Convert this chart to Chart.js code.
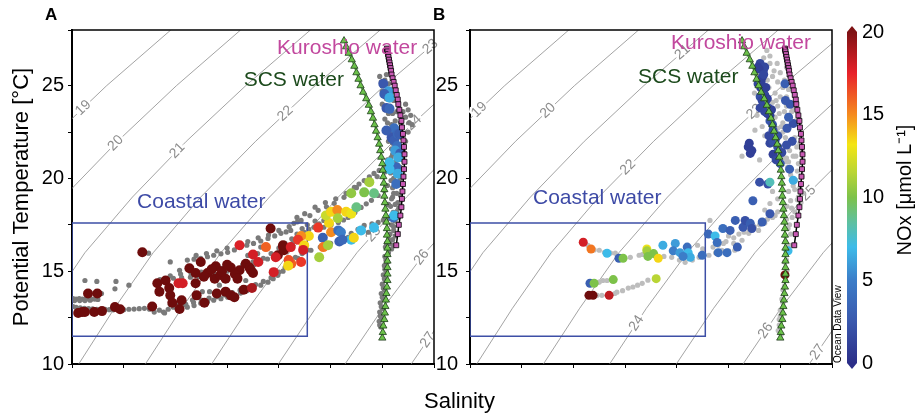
<!DOCTYPE html>
<html>
<head>
<meta charset="utf-8">
<title>T-S diagram</title>
<script src="https://cdn.jsdelivr.net/npm/chart.js@4.4.1/dist/chart.umd.min.js"></script>
<style>
  body { margin: 0; background: #fff; }
  #wrap { position: relative; width: 916px; height: 419px; overflow: hidden; font-family: 'Liberation Sans', Arial, sans-serif; }
  canvas { position: absolute; top: 0; }
  #cA { left: 0; }
  #cB { left: 436px; }
  #cBar { left: 846px; }
  .tag { position: absolute; top: 5px; font-weight: bold; font-size: 17px; }
  #sal { position: absolute; left: 424px; top: 388px; font-size: 22px; }
</style>
</head>
<body>
<div id="wrap">
  <canvas id="cA" width="440" height="419"></canvas>
  <canvas id="cB" width="410" height="419"></canvas>
  <canvas id="cBar" width="70" height="419"></canvas>
  <div class="tag" style="left:45px">A</div>
  <div class="tag" style="left:433px">B</div>
  <div id="sal">Salinity</div>
</div>
<script>
// isopycnals (sigma-theta), salinity where each level crosses the temperatures in isoT
const isoLevels = [19, 20, 21, 22, 23, 24, 25, 26, 27];
const isoT = [10, 13, 16, 19, 22, 25, 28];
const isoS = [
  [24.77, 25.43, 26.12, 27.02, 28.04, 29.17, 30.41],
  [26.06, 26.73, 27.43, 28.34, 29.38, 30.52, 31.76],
  [27.34, 28.02, 28.75, 29.67, 30.71, 31.86, 33.11],
  [28.63, 29.32, 30.07, 30.99, 32.05, 33.20, 34.46],
  [29.92, 30.62, 31.38, 32.32, 33.38, 34.54, 35.81],
  [31.20, 31.91, 32.70, 33.65, 34.72, 35.89],
  [32.49, 33.21, 34.01, 34.97, 36.05],
  [33.78, 34.51, 35.33, 36.30],
  [35.06, 35.80]
];
// temperature where each isopycnal carries its label
const isoLabelTA = [23.8, 21.9, 21.5, 23.5, 27.1, 23.0, 17.0, 15.75, 11.3];
const isoLabelTB = [23.7, 23.65, 26.8, 20.6, 23.6, 12.2, 19.2, 11.8, 10.65];

// end-member profiles [S, T]
const scsProfile = [[33.76,27.42],[33.80,27.1],[33.85,26.75],[33.91,26.4],[33.96,26.05],[34.00,25.7],[34.04,25.35],[34.08,25.0],[34.13,24.65],[34.19,24.3],[34.24,23.95],[34.28,23.6],[34.32,23.25],[34.35,22.9],[34.38,22.55],[34.41,22.2],[34.44,21.85],[34.46,21.5],[34.48,21.15],[34.50,20.8],[34.51,20.45],[34.52,20.1],[34.53,19.75],[34.54,19.4],[34.54,19.05],[34.55,18.7],[34.56,18.35],[34.57,18.0],[34.58,17.65],[34.59,17.3],[34.59,16.95],[34.60,16.6],[34.60,16.25],[34.60,15.9],[34.60,15.55],[34.60,15.2],[34.60,14.85],[34.60,14.5],[34.59,14.15],[34.58,13.8],[34.57,13.45],[34.56,13.1],[34.55,12.75],[34.54,12.4],[34.52,12.05],[34.51,11.7],[34.50,11.4]];
const kuroshioProfile = [[34.59,27.0],[34.595,26.93],[34.60,26.85],[34.61,26.7],[34.62,26.55],[34.63,26.4],[34.64,26.25],[34.65,26.1],[34.66,25.95],[34.67,25.8],[34.68,25.6],[34.70,25.4],[34.72,25.2],[34.74,25.0],[34.76,24.75],[34.78,24.5],[34.80,24.25],[34.81,24.0],[34.83,23.7],[34.85,23.4],[34.87,23.1],[34.88,22.75],[34.90,22.4],[34.91,22.05],[34.92,21.7],[34.93,21.3],[34.93,20.9],[34.92,20.5],[34.91,20.1],[34.90,19.7],[34.89,19.3],[34.88,18.9],[34.87,18.45],[34.85,18.0],[34.82,17.5],[34.80,17.0],[34.77,16.4]];

// coastal water box
const boxS = [28.5, 33.05, 33.05, 28.5, 28.5];
const boxT = [11.5, 11.5, 17.6, 17.6, 11.5];

// panel A: all CTD samples [S, T]
const grayA = [
  [28.52,13.52],[28.58,13.5],[28.64,13.52],[28.7,13.5],[28.76,13.5],[28.82,13.52],[28.88,13.5],[28.94,13.5],[29.0,13.48],[28.55,13.42],[28.65,13.42],[28.75,13.42],[28.85,13.44],
  [28.52,13.1],[28.58,13.05],[28.66,13.02],[28.74,13.0],[28.82,12.98],[28.9,12.97],[28.98,12.95],[29.06,12.95],[29.14,12.95],[29.22,12.93],[29.3,12.92],[29.4,12.92],[29.5,12.93],[29.6,12.95],[29.7,12.96],[29.8,12.98],[29.9,13.0],[30.0,12.95],[30.09,12.8],[30.19,12.9],[30.29,12.75],
  [28.75,14.5],[28.98,14.45],[29.35,14.45],[29.6,14.25],[29.33,14.05],[29.07,13.8],[29.98,15.97],
  [30.27,12.8],[30.36,12.95],[30.46,13.06],[30.6,13.05],[30.73,13.06],[30.86,13.15],[30.99,13.28],[31.12,13.35],[31.24,13.44],[31.38,13.52],[31.51,13.6],[31.64,13.7],[31.76,13.82],[31.88,13.95],[32.01,14.09],[32.15,14.25],[32.29,14.41],[32.39,14.6],[32.48,14.78],[32.58,15.0],[32.67,15.22],[32.77,15.45],[32.87,15.7],[32.95,15.95],[33.05,16.15],
  [30.4,13.2],[30.55,13.25],[30.7,13.22],[30.85,13.32],[31.0,13.45],[31.15,13.55],[31.3,13.62],[31.45,13.72],[31.6,13.85],[31.75,13.98],[31.9,14.12],[32.05,14.28],[32.2,14.45],[32.35,14.65],[32.5,14.95],[32.62,15.2],[32.72,15.45],[32.82,15.75],
  [30.15,14.35],[30.3,14.5],[30.46,14.62],[30.62,14.65],[30.79,14.68],[30.95,14.72],[31.12,14.78],[31.25,14.88],[31.37,14.95],[31.5,15.0],[31.63,15.05],[31.76,15.13],[31.9,15.22],[32.02,15.35],[32.15,15.48],[32.28,15.66],[32.4,15.86],[32.54,16.08],[32.67,16.29],[32.77,16.52],[32.87,16.77],[32.99,17.1],[33.08,17.25],[33.18,17.37],[33.28,17.55],[33.37,17.74],
  [30.2,14.55],[30.4,14.75],[30.6,14.85],[30.8,14.9],[31.0,14.95],[31.2,15.05],[31.4,15.15],[31.6,15.25],[31.8,15.35],[32.0,15.5],[32.2,15.7],[32.35,15.95],[32.5,16.25],[32.62,16.5],[32.75,16.75],[32.85,17.0],[32.95,17.3],[33.05,17.5],[33.2,17.7],
  [30.73,15.6],[30.86,15.65],[30.99,15.7],[31.12,15.78],[31.24,15.86],[31.38,15.94],[31.51,16.02],[31.64,16.15],[31.76,16.29],[31.88,16.4],[32.01,16.5],[32.15,16.63],[32.29,16.77],[32.42,16.9],[32.54,17.04],[32.64,17.12],[32.73,17.2],[32.79,17.58],[32.86,17.66],[32.93,17.74],[33.1,18.0],
  [30.9,15.85],[31.1,15.95],[31.3,16.1],[31.5,16.25],[31.7,16.45],[31.9,16.6],[32.1,16.8],[32.3,16.95],[32.5,17.2],[32.7,17.4],[32.85,17.9],[33.0,18.1],[33.2,18.45],[33.4,18.7],[33.6,18.9],[33.8,19.2],[34.0,19.5],[34.2,19.8],[34.4,20.1],[34.55,20.35],
  [30.58,15.05],[31.02,13.9],[31.16,13.9],[31.35,14.25],[30.83,13.45],[30.69,13.2],[31.28,13.7],[31.86,14.5],[31.9,15.85],[32.09,15.95],[32.15,16.3],[31.37,15.15],[30.4,15.5],
  [33.26,18.28],[33.42,18.47],[33.57,18.66],[33.76,18.98],[33.86,19.25],[33.96,19.52],[34.05,19.7],[34.15,19.89],[34.25,20.08],[34.34,20.27],[34.44,20.43],[34.54,20.59],[34.6,20.86],[34.67,21.13],
  [33.37,17.37],[33.51,17.5],[33.65,17.63],[33.75,17.76],[33.84,17.9],[33.97,18.17],[34.09,18.44],[34.19,18.63],[34.29,18.82],[34.42,19.08],[34.54,19.35],[34.6,19.62],[34.67,19.89],
  [33.12,16.13],[33.3,16.3],[33.5,16.5],[33.7,16.7],[33.84,16.83],[33.9,17.04],[34.03,17.25],[34.15,17.47],[34.23,17.1],[34.3,17.55],[34.42,17.63],[34.52,17.75],[34.62,17.85],[34.71,18.17],
  [34.55,25.3],[34.6,24.8],[34.58,24.3],[34.65,23.9],[34.7,23.5],[34.75,23.1],[34.78,22.6],[34.8,22.2],[34.85,21.7],[34.82,21.2],[34.8,20.7],[34.78,20.2],[34.75,19.7],[34.78,19.2],[34.8,18.7],[34.78,18.2],[34.75,17.7],[34.72,17.2],[34.7,16.7],[34.68,16.2],
  [34.95,23.3],[35.02,23.0],[35.0,22.5],[34.95,22.0],[34.5,24.0],[34.55,23.2],[34.62,22.0],[34.6,21.0],[34.66,20.3],[34.7,19.0],[34.66,18.5],[34.62,18.6],[34.5,25.0],[34.58,25.6],[34.52,24.6],[34.9,23.6],[34.88,22.8],[34.72,22.4],[34.68,21.6],[34.72,20.8],[34.9,21.0],[34.85,20.0],
  [34.45,25.5],[34.48,25.2],[34.62,25.1],[34.5,24.7],[34.68,24.6],[34.55,24.4],[34.72,24.2],[34.55,23.7],[34.62,23.5],[34.78,23.6],[34.6,23.0],[34.68,22.9],[34.85,23.0],[34.65,22.4],[34.72,22.2],[34.88,22.2],[34.7,21.9],[34.78,21.5],[34.92,21.4],[34.7,21.3],[34.75,20.9],[34.85,20.6],[34.7,20.4],[34.72,20.0],[34.82,19.8],[34.7,19.5],[34.72,19.2],[34.85,19.1],[34.68,18.9],[34.75,18.6],[34.82,18.4],[34.7,18.0],[34.8,17.9],[34.68,17.5],[34.72,17.4],[34.65,17.0],[34.75,16.9],[34.65,16.5],[34.72,16.4],[34.62,16.7],
  [35.05,23.4],[35.08,22.9],[35.0,23.7],[34.95,24.0],
  [34.56,16.3],[34.55,15.8],[34.54,15.3],[34.52,14.8],[34.5,14.3],[34.48,13.8],[34.46,13.3],[34.45,12.8],[34.44,12.3],[34.62,16.0],[34.6,15.5],[34.58,15.0],[34.56,14.5],[34.54,14.0],[34.52,13.5],[34.5,13.0],[34.48,12.5],
  [34.58,16.5],[34.57,15.6],[34.55,15.1],[34.54,14.6],[34.52,14.1],[34.5,13.6],[34.48,13.1],[34.46,12.6],[34.45,12.1],[34.47,12.0]
];
// panel A: samples with NOx [S, T, NOx]
const noxA = [
  [29.86,16.02,22],[28.81,13.8,22],[28.99,13.8,22],[28.62,12.75,22],[28.7,12.8,22],[28.75,12.8,22],[28.93,12.8,22],[29.08,12.85,22],[29.33,13.07,22],[29.43,12.95,22],[30.05,13.1,22],
  [30.15,14.35,22],[30.31,14.5,22],[30.19,13.9,22],[30.38,14.1,22],[30.40,13.7,22],[30.44,13.3,22],[30.58,12.96,22],[30.62,13.44,22],
  [30.77,15.16,22],[30.89,14.9,22],[30.89,14.35,22],[30.91,13.7,22],[30.99,15.5,22],[31.06,13.3,22],[31.12,14.9,22],[31.28,15.27,22],[31.26,14.6,22],[31.37,14.8,22],[31.47,14.6,22],[31.47,13.9,22],[31.57,13.7,22],[31.64,13.6,22],[31.57,15.2,22],[31.74,15.05,22],[31.82,14.0,22],[31.86,15.4,22],[31.93,15.2,22],[31.96,15.05,22],[32.0,14.9,22],
  [31.2,15.1,22],[31.4,15.0,22],[31.65,14.85,22],[31.7,14.6,22],[31.05,14.7,22],[31.5,15.35,22],[31.3,13.8,22],
  [31.74,16.4,17.8],[30.56,14.35,18],[30.64,14.35,18],[32.1,15.5,18],[31.98,14.1,19],
  [32.34,17.3,22],[32.25,16.3,16],[32.0,15.9,18],[32.48,15.86,22],[32.58,16.3,19],[32.93,15.5,17],[32.74,15.4,16],[32.4,14.95,18],[32.6,16.13,22],[32.44,15.75,18],[32.58,16.4,22],
  [33.08,16.9,13.5],[33.26,17.35,17],[33.35,16.8,3],[33.47,17.6,13.5],[33.51,17.1,15],[33.41,18.0,12],[33.51,18.2,13.5],[33.63,18.3,15],[33.64,17.85,11],[33.65,17.2,4],[33.70,17.1,5],[33.67,16.6,3],[33.80,18.2,13.5],[33.90,18.1,13],[33.90,19.2,10.5],[33.90,16.7,7],[33.73,16.7,3.5],[33.95,16.8,13.5],[34.0,18.45,9],[34.09,17.2,7],[34.15,19.25,10],[34.25,19.8,11],[34.34,19.2,9],[34.34,17.35,7],[33.28,15.75,11],[33.36,16.3,15.5],[33.45,16.4,11],[32.93,16.9,15],[32.87,16.7,17],[32.99,16.4,13.5],[32.97,16.15,18],[32.73,16.3,18],[32.69,15.6,16.5],[32.68,15.3,13.5],
  [34.52,25.1,2.5],[34.62,24.7,6],[34.54,24.55,3],[34.64,24.35,6.5],[34.58,23.8,2.5],[34.64,23.75,3.5],[34.73,22.7,4],[34.68,22.2,2.5],[34.73,22.05,3],[34.8,22.4,3.5],[34.79,21.75,4],[34.75,21.5,6],[34.85,21.35,3],[34.77,20.6,3.5],[34.8,20.25,6.5],[34.64,20.5,7],[34.77,19.7,4],[34.81,21.13,6.5],[34.64,20.86,7],[34.71,17.9,4],[34.73,18.0,7],[34.58,22.58,3],[34.83,22.4,3]
];

// panel B: all CTD samples [S, T]
const grayB = [
  [34.24,26.9],[34.3,26.6],[34.44,26.2],[34.5,25.7],[34.55,24.9],[34.62,24.4],[34.62,23.9],[34.69,23.3],[34.55,23.0],[34.65,22.6],[34.5,22.3],[34.69,22.0],[34.82,21.7],[34.55,21.5],[34.62,21.1],[34.18,26.5],[34.25,25.3],[34.4,24.6],[34.38,25.8],[34.48,23.5],[34.42,24.2],[34.88,22.6],[34.92,21.5],[34.94,21.0],[34.92,20.5],[34.64,20.6],[34.55,22.5],[34.75,23.8],[34.78,22.2],[34.75,21.2],
  [34.3,26.2],[34.35,25.5],[34.45,25.2],[34.5,24.4],[34.45,23.9],[34.58,23.6],[34.52,22.8],[34.6,22.2],[34.72,21.9],[34.68,21.5],[34.6,21.8],[34.8,21.2],[34.85,20.8],[34.7,20.2],[34.78,19.4],[34.88,19.5],[34.85,19.0],[34.9,18.7],[34.78,18.2],[34.7,18.8],[34.62,17.8],[34.65,17.3],[34.6,16.9],[34.68,16.4],[34.6,16.2],[34.58,15.5],[34.56,14.8],[34.58,14.2],[34.55,13.3],[34.5,12.6],[34.48,12.1],[34.52,11.6],[34.8,23.1],[34.72,23.6],[34.66,24.8],[34.58,25.3],[34.62,26.0],[34.28,24.9],[34.35,24.1],[34.4,23.3],[34.45,22.7],[34.5,21.7],[34.58,21.1],[34.66,20.9],[34.92,20.1],[34.88,21.9],
  [34.05,25.6],[34.0,24.6],[34.05,23.4],[34.15,22.8],[34.2,22.3],[34.01,22.6],[33.76,21.2],[34.1,21.0],
  [34.62,20.9],[34.83,20.4],[34.8,19.9],[34.94,19.2],[34.83,18.85],[34.73,17.9],[34.7,17.0],[34.65,16.1],[34.63,15.05],[34.55,14.0],[34.5,12.9],[34.46,11.8],[34.6,16.6],[34.62,15.6],[34.6,14.5],[34.53,13.5],[34.48,12.4],[34.68,17.5],[34.72,18.4],[34.66,19.3],[34.75,19.6],
  [34.3,18.65],[34.63,18.5],[34.2,18.3],[34.35,19.3],[34.45,18.9],
  [30.78,16.4],[30.9,16.15],[31.0,16.13],[31.1,16.02],[31.22,15.98],[31.31,15.97],[31.6,15.75],[31.77,15.86],[31.83,15.9],[32.08,15.85],[32.25,15.8],[32.4,15.75],[32.55,15.6],[32.66,15.48],[32.8,15.6],[32.93,15.75],[33.12,15.86],[33.25,16.0],[33.37,16.13],[33.5,16.1],[33.62,16.13],[33.76,16.67],[33.89,17.04],[34.08,17.2],[33.14,17.74],[33.2,16.3],[33.4,16.5],[33.6,16.8],[33.8,17.1],[34.0,17.4],[34.2,17.6],[34.35,17.9],[34.45,18.2],[33.0,16.2],[32.9,16.4],[33.5,16.9],
  [33.3,16.4],[33.45,16.6],[33.6,16.5],[33.7,17.0],[33.9,17.2],[34.1,17.5],[34.25,17.8],[34.4,18.0],[34.55,18.3],
  [30.98,14.4],[31.07,14.5],[31.15,14.5],[31.34,13.87],[31.45,13.95],[31.56,14.09],[31.65,14.15],[31.74,14.25],[31.83,14.35],[31.94,14.52],[30.96,13.7],[31.05,13.7],[31.3,13.8],[31.0,14.42]
];
// panel B: samples with NOx [S, T, NOx]
const noxB = [
  [30.69,16.56,18],[30.84,16.2,15.5],[31.15,15.97,7],[31.38,15.7,3],[31.46,15.7,10],[31.92,16.2,13],[31.92,16.1,11],[31.94,15.8,10],[32.05,15.95,10],[32.14,15.7,13.5],[32.23,16.4,6.5],[32.47,16.5,6],[32.43,16.1,5],[32.56,16.0,6],[32.7,16.3,4],[32.72,16.0,7],[32.76,15.75,6.5],[32.62,15.8,5],[32.99,15.86,4],[33.11,17.0,3.5],[33.24,16.9,7],[33.28,16.55,4],[33.39,17.3,4],[33.30,16.0,4],[33.47,16.0,4],[33.67,16.3,3],[33.53,17.2,3],[33.63,17.74,3],[33.78,17.37,2.5],[33.82,17.74,2],[33.92,17.58,3],[33.95,17.3,2],[33.97,18.8,3],[34.15,17.65,3],[34.3,18.1,2.5],[33.88,21.7,1],[33.92,21.35,1],
  [30.82,14.35,3],[30.9,14.35,10],[31.27,14.55,10],[32.1,14.6,11.5],[30.8,13.7,22],[30.88,13.7,22],[31.19,13.7,18.5],
  [34.65,16.1,7],[34.59,14.8,22],
  [34.11,26.2,1.5],[34.17,25.8,1.5],[34.15,25.45,1],[34.07,25.1,1.5],[34.17,24.75,1.5],[34.11,24.4,2],[34.21,24.1,1],[34.27,23.8,2],[34.11,23.8,1.5],[34.25,23.5,1],[34.3,23.1,2.5],[34.36,22.6,2],[34.4,22.05,1.5],[34.3,21.9,1.5],[34.59,25.1,3],[34.63,22.7,2.5],[34.53,21.4,1.5],[34.69,24.0,2.5],[34.75,22.96,2],[34.73,22.0,2],[34.36,22.0,2],[34.36,21.3,1],[34.5,20.8,2.5],[34.26,19.7,2],[34.75,19.9,6.5],[34.3,19.8,8],[34.1,19.8,2],[34.07,26.0,1],[34.2,26.0,1.5],[34.13,25.2,1],[34.2,24.5,1.5],[34.3,23.4,1],[34.45,22.3,2],
  [34.09,25.9,1],[34.18,25.6,1.5],[34.12,24.9,1],[34.22,24.9,1],[34.15,24.2,1.5],[34.25,24.3,1],[34.2,23.6,1.5],[34.33,23.7,1],[34.35,22.9,2],[34.28,22.3,1.5],[34.45,21.7,2],[34.42,21.0,1.5],[34.6,24.2,2.5],[34.66,23.3,3],[34.62,21.8,2],[34.68,20.5,3],[33.9,21.9,1],[33.95,21.5,1]
];

// NOx colour scale
const cmapValues = [0, 2.5, 5, 7, 8.5, 10, 11.5, 13.2, 15, 17.5, 20];
const cmapColors = ['#2b2e88', '#3a58ad', '#3c7dc8', '#3dbbe9', '#5ec0a0', '#7dc24a', '#b9d535', '#f4e514', '#f58b1f', '#e8222a', '#7e1214'];
const overColor = '#6e0c0c';

const FONT = "'Liberation Sans', Arial, sans-serif";
Chart.defaults.font.family = FONT;
Chart.defaults.color = '#000';

function hexRgb(h) {
  return [parseInt(h.slice(1, 3), 16), parseInt(h.slice(3, 5), 16), parseInt(h.slice(5, 7), 16)];
}
// colour for a NOx value, linear between colour bar stops
function noxColor(v) {
  if (v >= 20) return overColor;
  for (let i = 1; i < cmapValues.length; i++) {
    if (v <= cmapValues[i]) {
      const f = (v - cmapValues[i - 1]) / (cmapValues[i] - cmapValues[i - 1]);
      const a = hexRgb(cmapColors[i - 1]), b = hexRgb(cmapColors[i]);
      return 'rgb(' + a.map((c, k) => Math.round(c + (b[k] - c) * f)).join(',') + ')';
    }
  }
  return cmapColors[0];
}

const toXY = arr => arr.map(p => ({ x: p[0], y: p[1] }));

// contour labels, drawn just after the isopycnal lines so the samples cover them
const isoLabelPlugin = {
  id: 'isoLabels',
  afterDatasetDraw(chart, args, opts) {
    if (args.index !== 0) return;
    const { ctx, scales: { x, y } } = chart;
    ctx.save();
    ctx.font = '14px ' + FONT;
    ctx.textAlign = 'center';
    ctx.textBaseline = 'middle';
    opts.temps.forEach((t, i) => {
      const s = isoS[i];
      let j = 0;
      while (j < s.length - 2 && isoT[j + 1] < t) j++;
      const f = (t - isoT[j]) / (isoT[j + 1] - isoT[j]);
      const sv = s[j] + f * (s[j + 1] - s[j]);
      const ang = Math.atan2(y.getPixelForValue(isoT[j + 1]) - y.getPixelForValue(isoT[j]),
                             x.getPixelForValue(s[j + 1]) - x.getPixelForValue(s[j]));
      ctx.save();
      ctx.translate(x.getPixelForValue(sv), y.getPixelForValue(t));
      ctx.rotate(ang);
      ctx.lineWidth = 5;
      ctx.strokeStyle = '#fff';
      ctx.strokeText(String(isoLevels[i]), 0, 0);
      ctx.fillStyle = '#8c8c8c';
      ctx.fillText(String(isoLevels[i]), 0, 0);
      ctx.restore();
    });
    ctx.restore();
  }
};

// water mass names, frame, ODV credit
const notesPlugin = {
  id: 'notes',
  afterDatasetsDraw(chart, args, opts) {
    const { ctx, scales: { x, y } } = chart;
    ctx.save();
    ctx.textAlign = 'center';
    ctx.textBaseline = 'middle';
    ctx.font = '21px ' + FONT;
    opts.items.forEach(it => {
      ctx.fillStyle = it.color;
      ctx.fillText(it.text, x.getPixelForValue(it.s), y.getPixelForValue(it.t));
    });
    ctx.restore();
  },
  afterDraw(chart, args, opts) {
    const { ctx, chartArea: a } = chart;
    ctx.save();
    ctx.strokeStyle = '#000';
    ctx.lineWidth = 1.5;
    ctx.beginPath();
    ctx.moveTo(a.left, a.top);
    ctx.lineTo(a.right, a.top);
    ctx.lineTo(a.right, a.bottom);
    ctx.stroke();
    if (opts.odv) {
      ctx.translate(a.right + 6, a.bottom - 1);
      ctx.rotate(-Math.PI / 2);
      ctx.font = '10px ' + FONT;
      ctx.fillStyle = '#000';
      ctx.textBaseline = 'middle';
      ctx.fillText('Ocean Data View', 0, 0);
    }
    ctx.restore();
  }
};

function makePanel(id, o) {
  const datasets = [];
  isoS.forEach(s => {
    datasets.push({
      data: s.map((v, j) => ({ x: v, y: isoT[j] })),
      showLine: true, borderColor: '#8c8c8c', borderWidth: 0.8, pointRadius: 0, order: 10
    });
  });
  datasets.push({
    data: toXY(o.gray), pointRadius: 2.6, pointBackgroundColor: o.grayColor, pointBorderWidth: 0, order: 4
  });
  datasets.push({
    data: boxS.map((s, i) => ({ x: s, y: boxT[i] })),
    showLine: true, borderColor: '#3d4fa6', borderWidth: 1.5, pointRadius: 0, order: 3
  });
  datasets.push({
    data: toXY(o.nox), pointRadius: o.noxRadius, pointBorderWidth: 0,
    pointBackgroundColor: o.nox.map(p => noxColor(p[2])), order: 2
  });
  datasets.push({
    data: toXY(scsProfile), showLine: true, borderColor: '#5cbf45', borderWidth: 1.5,
    pointStyle: 'triangle', pointRadius: 4.2, pointBackgroundColor: '#6cc24a',
    pointBorderColor: '#1d3b1a', pointBorderWidth: 0.8, order: 1
  });
  datasets.push({
    data: toXY(kuroshioProfile), showLine: true, borderColor: '#000', borderWidth: 1.5,
    pointStyle: 'rect', pointRadius: 3.5, pointBackgroundColor: '#c85ab4',
    pointBorderColor: '#000', pointBorderWidth: 0.8, order: 0
  });

  return new Chart(document.getElementById(id), {
    type: 'scatter',
    data: { datasets },
    options: {
      responsive: false,
      animation: false,
      events: [],
      layout: { padding: { top: 30, right: o.padRight, left: 0, bottom: 0 } },
      plugins: {
        legend: { display: false },
        tooltip: { enabled: false },
        isoLabels: { temps: o.labelT },
        notes: { items: o.notes, odv: o.odv }
      },
      scales: {
        x: {
          type: 'linear', min: 28.5, max: 35.5,
          ticks: { stepSize: 1, autoSkip: false, maxRotation: 0, padding: 2, font: { size: 20 },
                   callback: v => (v % 2 === 0 ? v : '') },
          grid: { drawOnChartArea: false, tickLength: 4, color: '#000' },
          border: { color: '#000', width: 2 },
          afterFit: s => { s.height = 55; }
        },
        y: {
          type: 'linear', min: 10, max: 28,
          ticks: { stepSize: 2.5, autoSkip: false, padding: o.yPad, font: { size: 20 },
                   callback: v => (v % 5 === 0 ? v : '') },
          grid: { drawOnChartArea: false, tickLength: 4, color: '#000' },
          border: { color: '#000', width: 2 },
          title: o.yTitle,
          afterFit: s => { s.width = o.yWidth; }
        }
      }
    },
    plugins: [isoLabelPlugin, notesPlugin]
  });
}

makePanel('cA', {
  gray: grayA, grayColor: '#7a7a7a', nox: noxA, noxRadius: 5, labelT: isoLabelTA,
  padRight: 6, yWidth: 72, yPad: 4, odv: false,
  yTitle: { display: true, text: 'Potential Temperature [°C]', font: { size: 22 }, color: '#000', padding: { top: 9, bottom: 0 } },
  notes: [
    { text: 'Kuroshio water', s: 33.82, t: 27.04, color: '#c2489e' },
    { text: 'SCS water', s: 32.79, t: 25.27, color: '#1c4a1c' },
    { text: 'Coastal water', s: 31.0, t: 18.71, color: '#3d4aa6' }
  ]
});

makePanel('cB', {
  gray: grayB, grayColor: '#bdbdbd', nox: noxB, noxRadius: 4.5, labelT: isoLabelTB,
  padRight: 14, yWidth: 34, yPad: 8, odv: true,
  yTitle: { display: false },
  notes: [
    { text: 'Kuroshio water', s: 33.74, t: 27.31, color: '#c2489e' },
    { text: 'SCS water', s: 32.72, t: 25.48, color: '#1c4a1c' },
    { text: 'Coastal water', s: 30.96, t: 18.92, color: '#3d4aa6' }
  ]
});

// colour bar with its own axis
const barPlugin = {
  id: 'bar',
  beforeDatasetsDraw(chart) {
    const { ctx, chartArea: a } = chart;
    ctx.save();
    const g = ctx.createLinearGradient(0, a.bottom, 0, a.top);
    cmapValues.forEach((v, i) => g.addColorStop(v / 20, cmapColors[i]));
    ctx.fillStyle = g;
    ctx.fillRect(a.left, a.top, a.right - a.left, a.bottom - a.top);
    const mid = (a.left + a.right) / 2;
    ctx.fillStyle = cmapColors[cmapColors.length - 1];
    ctx.beginPath();
    ctx.moveTo(a.left, a.top); ctx.lineTo(a.right, a.top); ctx.lineTo(mid, a.top - 6); ctx.closePath();
    ctx.fill();
    ctx.fillStyle = cmapColors[0];
    ctx.beginPath();
    ctx.moveTo(a.left, a.bottom); ctx.lineTo(a.right, a.bottom); ctx.lineTo(mid, a.bottom + 6); ctx.closePath();
    ctx.fill();
    ctx.translate(59, 190);
    ctx.rotate(-Math.PI / 2);
    ctx.font = '20px ' + FONT;
    ctx.fillStyle = '#000';
    ctx.textAlign = 'center';
    ctx.textBaseline = 'middle';
    ctx.fillText('NOx [μmol L⁻¹]', 0, 0);
    ctx.restore();
  }
};

new Chart(document.getElementById('cBar'), {
  type: 'scatter',
  data: { datasets: [] },
  options: {
    responsive: false,
    animation: false,
    events: [],
    layout: { padding: { top: 32, bottom: 56, left: 1, right: 0 } },
    plugins: { legend: { display: false }, tooltip: { enabled: false } },
    scales: {
      x: { display: false, min: 0, max: 1 },
      y: {
        position: 'right', min: 0, max: 20,
        ticks: { stepSize: 5, padding: 5, font: { size: 20 } },
        grid: { display: false, drawTicks: false },
        border: { display: false },
        afterFit: s => { s.width = 59; }
      }
    }
  },
  plugins: [barPlugin]
});
</script>
</body>
</html>
